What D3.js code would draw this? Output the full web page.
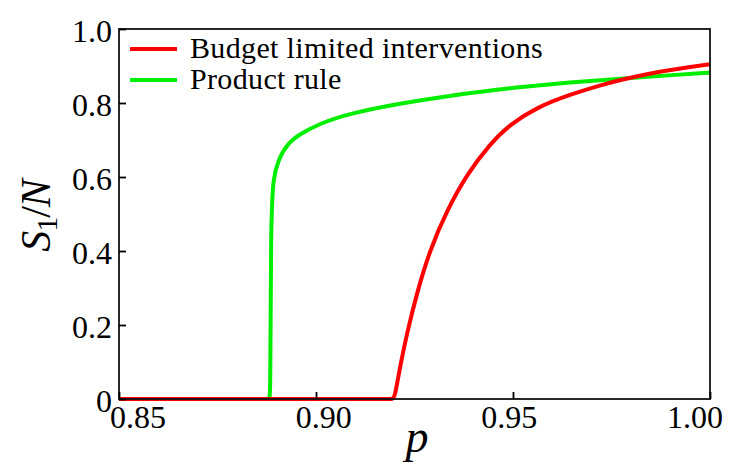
<!DOCTYPE html>
<html>
<head>
<meta charset="utf-8">
<script src="https://cdn.jsdelivr.net/npm/d3@7"></script>
<style>
  body { margin: 0; background: #fff; }
  .lbl { font-family: "Liberation Serif", "DejaVu Serif", serif; fill: #000; }
</style>
</head>
<body>
<div id="chart"></div>
<script>
/**
 * Data
 */
var seriesNames = ["Budget limited interventions", "Product rule"];
var seriesColors = ["#ff0000", "#00ee00"];

// Budget limited interventions (red)
var budgetP = [0.85, 0.9100, 0.9180, 0.9195, 0.9200, 0.9213, 0.9231, 0.9256, 0.9289, 0.9333, 0.9383, 0.9442, 0.9492, 0.9560, 0.9645, 0.9729, 0.9772, 0.9856, 0.9941, 1.0];
var budgetS = [0, 0, 0, 0, 0.005, 0.086, 0.178, 0.286, 0.403, 0.511, 0.607, 0.690, 0.742, 0.788, 0.823, 0.850, 0.862, 0.882, 0.896, 0.905];

// Product rule (green)
var productP = [0.85, 0.8860, 0.8878, 0.8882, 0.8884, 0.8885, 0.8886, 0.88883, 0.88909, 0.89035, 0.89289, 0.89594, 0.90101, 0.90863, 0.92132, 0.93401, 0.94593, 0.95177, 0.96447, 0.97716, 0.98985, 1.0];
var productS = [0, 0, 0, 0, 0.02, 0.25, 0.45, 0.519, 0.592, 0.646, 0.692, 0.716, 0.745, 0.772, 0.799, 0.820, 0.836, 0.843, 0.856, 0.866, 0.875, 0.882];

var xTicks = [0.85, 0.90, 0.95, 1.00];
var yTicks = [0, 0.2, 0.4, 0.6, 0.8, 1.0];

/**
 * Stage
 */
var width = 740,
    height = 476;
var margin = { left: 119, top: 29, right: 30, bottom: 77 };

var svg = d3.select("#chart")
    .append("svg")
    .attr("width", width)
    .attr("height", height);

var x = d3.scaleLinear().domain([0.85, 1.0]).range([margin.left, width - margin.right]);
var y = d3.scaleLinear().domain([0, 1]).range([height - margin.bottom, margin.top]);

// tick labels sit a little off their ticks in the original
var xLabel = d3.scaleLinear().domain([0.85, 1.0]).range([138, 695]);

/**
 * Lines
 */
var line = d3.line()
    .x(function (d) { return x(d[0]); })
    .y(function (d) { return y(d[1]); })
    .curve(d3.curveBasis);

var series = [
    d3.zip(budgetP, budgetS),
    d3.zip(productP, productS)
];

// draw green first so red sits on top where they overlap
[1, 0].forEach(function (i) {
    svg.append("path")
        .datum(series[i])
        .attr("d", line)
        .attr("fill", "none")
        .attr("stroke", seriesColors[i])
        .attr("stroke-width", 4)
        .attr("stroke-linejoin", "round");
});

/**
 * Frame + ticks (inward, left and bottom only)
 */
svg.append("rect")
    .attr("x", x(0.85))
    .attr("y", y(1))
    .attr("width", x(1) - x(0.85))
    .attr("height", y(0) - y(1))
    .attr("fill", "none")
    .attr("stroke", "#111")
    .attr("stroke-width", 1.8);

svg.append("g")
    .attr("transform", "translate(0," + y(0) + ")")
    .call(d3.axisBottom(x).tickValues(xTicks).tickSize(-7).tickFormat(""))
    .call(function (g) { g.select(".domain").remove(); })
    .selectAll("line").attr("stroke", "#000").attr("stroke-width", 1.8);

svg.append("g")
    .attr("transform", "translate(" + x(0.85) + ",0)")
    .call(d3.axisLeft(y).tickValues(yTicks).tickSize(-7).tickFormat(""))
    .call(function (g) { g.select(".domain").remove(); })
    .selectAll("line").attr("stroke", "#000").attr("stroke-width", 1.8);

/**
 * Tick labels
 */
svg.selectAll(".xtick")
    .data(xTicks)
    .enter()
    .append("text")
    .attr("class", "lbl xtick")
    .attr("x", function (d) { return xLabel(d); })
    .attr("y", 428)
    .attr("text-anchor", "middle")
    .style("font-size", "32px")
    .text(d3.format(".2f"));

svg.selectAll(".ytick")
    .data(yTicks)
    .enter()
    .append("text")
    .attr("class", "lbl ytick")
    .attr("x", 112)
    .attr("y", function (d) { return y(d) + 13; })
    .attr("text-anchor", "end")
    .style("font-size", "32px")
    .text(function (d) { return d === 0 ? "0" : d3.format(".1f")(d); });

/**
 * Axis titles
 */
svg.append("text")
    .attr("class", "lbl")
    .attr("x", 417)
    .attr("y", 452)
    .attr("text-anchor", "middle")
    .style("font-size", "46px")
    .style("font-style", "italic")
    .text("p");

var ylab = svg.append("text")
    .attr("class", "lbl")
    .attr("transform", "translate(50,216) rotate(-90)")
    .attr("text-anchor", "middle")
    .style("font-size", "42px")
    .style("letter-spacing", "-1px");
ylab.append("tspan").style("font-style", "italic").text("S");
ylab.append("tspan").attr("dy", 7).style("font-size", "30px").text("1");
ylab.append("tspan").attr("dy", -7).text("/");
ylab.append("tspan").style("font-style", "italic").text("N");

/**
 * Legend
 */
var legend = svg.append("g");
seriesNames.forEach(function (name, i) {
    var ly = 49 + i * 31;
    legend.append("line")
        .attr("x1", 130).attr("x2", 177)
        .attr("y1", ly).attr("y2", ly)
        .attr("stroke", seriesColors[i])
        .attr("stroke-width", 4);
    legend.append("text")
        .attr("class", "lbl")
        .attr("x", 190)
        .attr("y", ly + 9)
        .style("font-size", "30px")
        .style("letter-spacing", "0.35px")
        .text(name);
});
</script>
</body>
</html>
